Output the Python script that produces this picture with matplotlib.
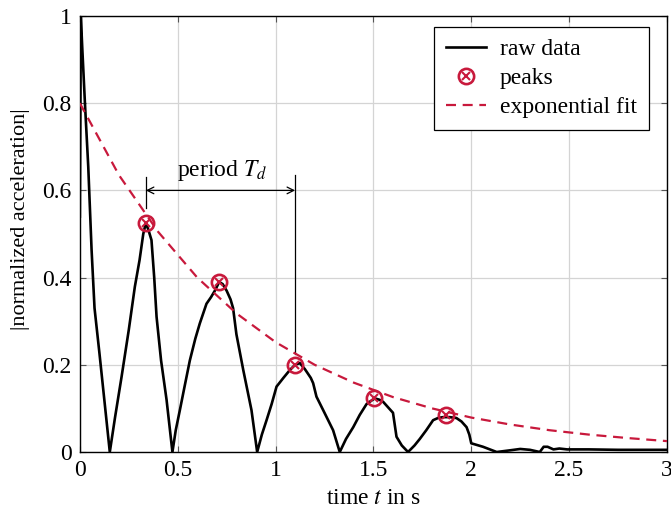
import matplotlib
matplotlib.use("Agg")
import matplotlib.pyplot as plt
from matplotlib.lines import Line2D

# raw acceleration trace
raw_t = [0.0, 0.005, 0.012, 0.026, 0.043, 0.06, 0.075, 0.10, 0.125, 0.153,
         0.18, 0.213, 0.25, 0.281, 0.305, 0.324, 0.337, 0.35, 0.366, 0.38,
         0.392, 0.415, 0.443, 0.473,
         0.49, 0.511, 0.535, 0.562, 0.59, 0.613, 0.647, 0.67, 0.69, 0.712,
         0.73, 0.75, 0.77, 0.783, 0.80, 0.835, 0.877, 0.906,
         0.93, 0.954, 0.98, 1.005, 1.04, 1.073, 1.10, 1.124, 1.15, 1.18,
         1.192, 1.209, 1.25, 1.294, 1.328,
         1.36, 1.397, 1.43, 1.465, 1.49, 1.507, 1.53, 1.55, 1.58, 1.60,
         1.618, 1.645, 1.677,
         1.71, 1.737, 1.77, 1.805, 1.83, 1.856, 1.89, 1.924, 1.95, 1.976,
         1.99, 2.0, 2.06, 2.13, 2.2, 2.25, 2.3, 2.35, 2.37, 2.39, 2.42,
         2.45, 2.49, 2.6, 2.75, 2.9, 3.0]
raw_a = [0.54, 1.0, 0.93, 0.80, 0.654, 0.463, 0.33, 0.227, 0.12, 0.0,
         0.08, 0.172, 0.28, 0.379, 0.44, 0.50, 0.525, 0.51, 0.486, 0.40,
         0.31, 0.21, 0.12, 0.0,
         0.05, 0.096, 0.15, 0.21, 0.26, 0.295, 0.34, 0.355, 0.37, 0.39,
         0.385, 0.37, 0.35, 0.33, 0.27, 0.188, 0.096, 0.0,
         0.04, 0.073, 0.11, 0.15, 0.17, 0.188, 0.20, 0.204, 0.19, 0.17,
         0.158, 0.127, 0.09, 0.05, 0.0,
         0.03, 0.057, 0.085, 0.11, 0.118, 0.123, 0.12, 0.115, 0.10, 0.09,
         0.035, 0.015, 0.0,
         0.015, 0.03, 0.05, 0.073, 0.078, 0.08, 0.08, 0.078, 0.07, 0.057,
         0.04, 0.02, 0.012, 0.0, 0.004, 0.007, 0.005, 0.0, 0.012, 0.012,
         0.006, 0.008, 0.006, 0.006, 0.005, 0.005, 0.005]

# detected peaks
peak_t = [0.337, 0.712, 1.10, 1.505, 1.87]
peak_a = [0.525, 0.39, 0.20, 0.125, 0.085]

# exponential fit curve
fit_t = [0.0, 0.2, 0.4, 0.6, 0.8, 1.0, 1.2, 1.4, 1.6, 1.8, 2.0, 2.2, 2.4,
         2.6, 2.8, 3.0]
fit_a = [0.80, 0.635, 0.505, 0.40, 0.318, 0.252, 0.20, 0.159, 0.126, 0.10,
         0.079, 0.063, 0.05, 0.040, 0.032, 0.025]

xticks = [0, 0.5, 1, 1.5, 2, 2.5, 3]
xtick_labels = ["0", "0.5", "1", "1.5", "2", "2.5", "3"]
yticks = [0, 0.2, 0.4, 0.6, 0.8, 1]
ytick_labels = ["0", "0.2", "0.4", "0.6", "0.8", "1"]

RED = "#c8193c"
DASH = (0, (4.5, 3))

plt.rcParams["font.family"] = ["Liberation Serif", "DejaVu Serif"]
plt.rcParams["mathtext.fontset"] = "stix"
plt.rcParams["font.size"] = 17

fig = plt.figure(figsize=(6.71, 5.16), dpi=100)
ax = fig.add_axes([0.119, 0.124, 0.875, 0.845])

ax.plot(raw_t, raw_a, color="black", lw=1.9, zorder=3)
ax.plot(fit_t, fit_a, color=RED, lw=1.6, ls=DASH, zorder=4)
ax.plot(peak_t, peak_a, ls="none", marker="o", ms=11, mfc="none",
        mec=RED, mew=1.9, zorder=5)
ax.plot(peak_t, peak_a, ls="none", marker="x", ms=5.5, mec=RED, mew=1.5,
        zorder=5)

# period annotation
ax.plot([peak_t[0], peak_t[0]], [0.56, 0.63], color="black", lw=0.9)
ax.plot([peak_t[2], peak_t[2]], [0.225, 0.635], color="black", lw=0.9)
ax.annotate("", xy=(peak_t[0], 0.60), xytext=(peak_t[2], 0.60),
            arrowprops=dict(arrowstyle="<->", color="black", lw=0.9,
                            shrinkA=0, shrinkB=0, mutation_scale=12))
ax.text((peak_t[0] + peak_t[2]) / 2 + 0.01, 0.618, "period $T_d$",
        ha="center", va="bottom")

ax.set_xlim(0, 3)
ax.set_ylim(0, 1)
ax.set_xticks(xticks)
ax.set_xticklabels(xtick_labels)
ax.set_yticks(yticks)
ax.set_yticklabels(ytick_labels)
ax.grid(True, color="#d4d4d4", lw=0.9)
ax.set_axisbelow(True)
ax.tick_params(direction="in", length=4, width=0.8, top=True, right=True,
               color="#555555", pad=6)
for s in ax.spines.values():
    s.set_linewidth(1.0)
ax.set_xlabel("time $t$ in s", labelpad=5)
ax.set_ylabel("|normalized acceleration|", fontsize=16)
ax.yaxis.set_label_coords(-0.085, 0.533)

handles = [Line2D([], [], color="black", lw=1.9),
           (Line2D([], [], ls="none", marker="o", ms=11, mfc="none",
                   mec=RED, mew=1.9),
            Line2D([], [], ls="none", marker="x", ms=5.5, mec=RED, mew=1.5)),
           Line2D([], [], color=RED, lw=1.6, ls=DASH)]
leg = ax.legend(handles, ["raw data", "peaks", "exponential fit"],
                loc="upper right", bbox_to_anchor=(0.969, 0.975),
                borderaxespad=0, fancybox=False, framealpha=1,
                edgecolor="black", handlelength=1.7, borderpad=0.5,
                labelspacing=0.32, handletextpad=0.6, fontsize=17)
leg.get_frame().set_linewidth(0.9)

fig.savefig("out.png", dpi=100)
